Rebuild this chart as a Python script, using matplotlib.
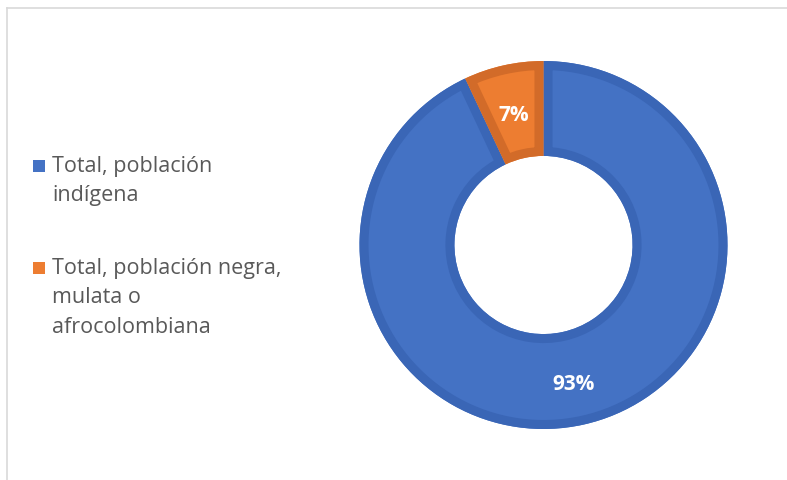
import matplotlib
matplotlib.use("Agg")
import matplotlib.pyplot as plt
from matplotlib.patches import Rectangle, Wedge
from matplotlib.lines import Line2D
from matplotlib.transforms import offset_copy

categories = ["Total, población indígena", "Total, población negra, mulata o afrocolombiana"]
legend_labels = ["Total, población\nindígena", "Total, población negra,\nmulata o\nafrocolombiana"]
values = [93, 7]
face_colors = ["#4472C4", "#ED7D31"]
edge_colors = ["#3A66B6", "#D26B29"]

W, H = 787, 480
fig = plt.figure(figsize=(W / 100, H / 100), dpi=100)
fig.patch.set_facecolor("white")

# border lines (top and left)
fig.add_artist(Line2D([7 / W, 1], [1 - 8 / H, 1 - 8 / H], color="#d9d9d9", lw=1.2))
fig.add_artist(Line2D([7 / W, 7 / W], [0, 1 - 8 / H], color="#d9d9d9", lw=1.2))

cx, cy, R = 543.5, 245, 184
half = 192
ax = fig.add_axes([(cx - half) / W, (H - cy - half) / H, 2 * half / W, 2 * half / H])

wedges, texts, autotexts = ax.pie(
    values, colors=face_colors, startangle=90, counterclock=False, radius=1,
    wedgeprops=dict(width=0.516, linewidth=0),
    autopct=lambda p: f"{p:.0f}%", pctdistance=0.75,
    textprops=dict(color="white", fontsize=15, fontweight="bold", family="Open Sans"),
)
for w, ec in zip(wedges, edge_colors):
    outline = Wedge(w.center, w.r, w.theta1, w.theta2, width=w.width,
                    facecolor="none", edgecolor=ec, linewidth=13,
                    transform=ax.transData, zorder=w.get_zorder() + 0.1)
    ax.add_patch(outline)
    outline.set_clip_path(w)
for t in autotexts:
    t.set_zorder(5)
    t.set_transform(offset_copy(ax.transData, fig=fig, x=0, y=-3.5, units="points"))
ax.set_xlim(-half / R, half / R)
ax.set_ylim(-half / R, half / R)
ax.set_aspect("equal")
ax.axis("off")

# legend
legend_y = [166, 268]
for lab, col, y in zip(legend_labels, face_colors, legend_y):
    fig.add_artist(Rectangle((33 / W, 1 - (y + 6) / H), 12 / W, 12 / H,
                             transform=fig.transFigure, facecolor=col, edgecolor="none"))
    fig.text(52 / W, 1 - (y - 10) / H, lab, ha="left", va="top", fontsize=15.5,
             color="#595959", family="Open Sans", linespacing=1.52)

fig.savefig("out.png", dpi=100, facecolor="white")
